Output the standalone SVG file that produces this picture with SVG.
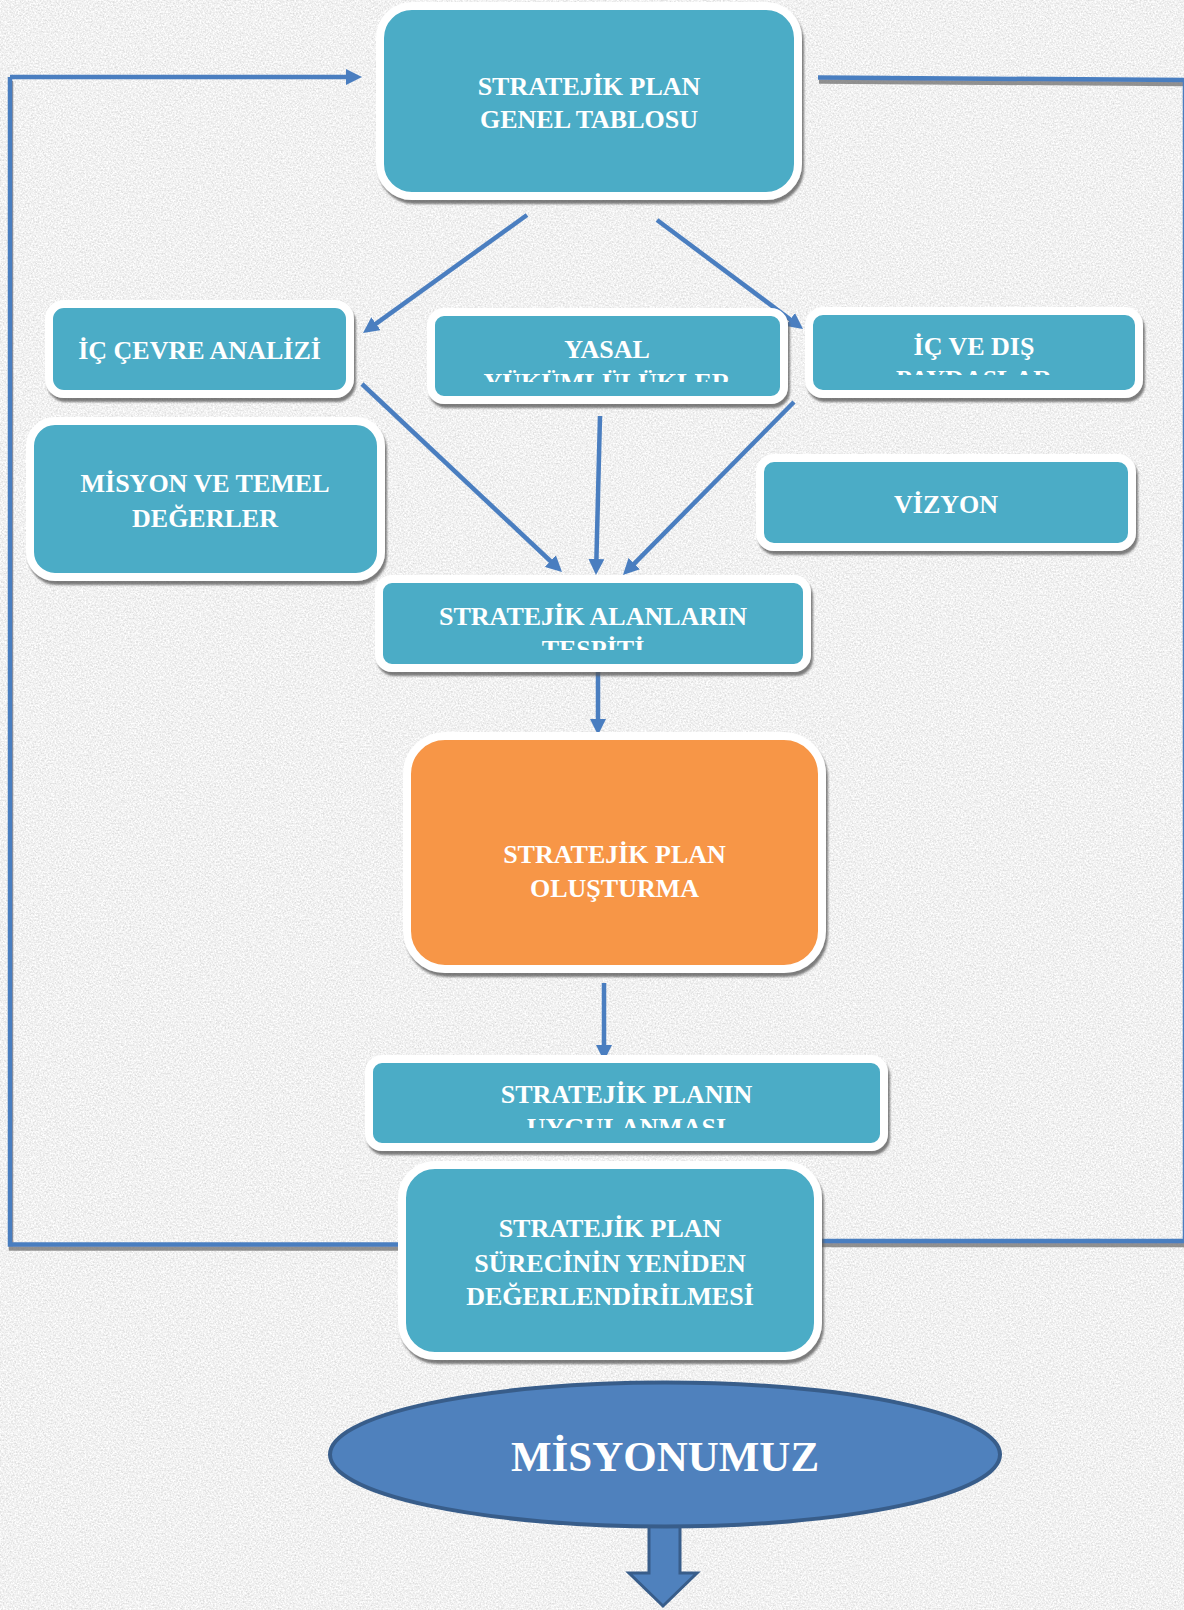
<svg xmlns="http://www.w3.org/2000/svg" width="1184" height="1610" viewBox="0 0 1184 1610">
<style>
.box{stroke:#FFFFFF;stroke-width:8;filter:url(#shadow)}
.teal{fill:#4BACC6}
.orange{fill:#F79646}
.t{font-family:"Liberation Serif","DejaVu Serif",serif;font-weight:bold;font-size:26px;fill:#FFFFFF;text-anchor:middle}
.big{font-size:43px}
.ln{fill:none;stroke:#4A7EC0;stroke-width:4.5}
.arr{marker-end:url(#ah)}
</style>
<defs>
<filter id="tex" x="0" y="0" width="1184" height="1610" filterUnits="userSpaceOnUse">
<feTurbulence type="fractalNoise" baseFrequency="0.6" numOctaves="3" seed="7"/>
<feColorMatrix type="matrix" values="0.5 0 0 0 0.63  0.5 0 0 0 0.63  0.5 0 0 0 0.63  0 0 0 0 1"/>
</filter>
<filter id="shadow" x="-5%" y="-5%" width="112%" height="120%">
<feDropShadow dx="2" dy="4" stdDeviation="1" flood-color="#555555" flood-opacity="0.75"/>
</filter>
<filter id="lshadow" x="-5%" y="-5%" width="110%" height="110%">
<feDropShadow dx="1" dy="4" stdDeviation="0.6" flood-color="#777777" flood-opacity="0.8"/>
</filter>
<marker id="ah" viewBox="0 0 16 16" refX="8" refY="8" markerWidth="16" markerHeight="16" markerUnits="userSpaceOnUse" orient="auto">
<path d="M0,0 L16,8 L0,16 z" fill="#4A7EC0"/>
</marker>
<clipPath id="c3"><rect x="435" y="316" width="345" height="66"/></clipPath>
<clipPath id="c4"><rect x="813" y="315" width="322" height="60"/></clipPath>
<clipPath id="c7"><rect x="383" y="583" width="420" height="67"/></clipPath>
<clipPath id="c9"><rect x="373" y="1063" width="507" height="65"/></clipPath>
</defs>
<rect x="0" y="0" width="1184" height="1610" fill="#E0E0E0"/>
<rect x="0" y="0" width="1184" height="1610" filter="url(#tex)"/>

<g id="connectors">
<g filter="url(#lshadow)">
<path class="ln" d="M403,1244.5 H10 V77"/>
<path class="ln" d="M818,77.5 L1185,80 V1241 H814"/>
</g>
<path class="ln arr" d="M10,77 H354"/>
<path class="ln arr" d="M527,215 L369.5,328.3"/>
<path class="ln arr" d="M657,220 L796.6,324.2"/>
<path class="ln arr" d="M362,384 L556.2,566.5"/>
<path class="ln arr" d="M600,416 L596.2,567"/>
<path class="ln arr" d="M794,402 L628.6,569.3"/>
<path class="ln arr" d="M598,671 V727"/>
<path class="ln arr" d="M604,983 V1053"/>
</g>

<g id="node-genel-tablo">
<rect class="box teal" x="380" y="6" width="418" height="190" rx="32"/>
<text class="t" x="589" y="95">STRATEJİK PLAN</text>
<text class="t" x="589" y="128">GENEL TABLOSU</text>
</g>

<g id="node-ic-cevre">
<rect class="box teal" x="49" y="304" width="301" height="90" rx="15"/>
<text class="t" x="199.5" y="359">İÇ ÇEVRE ANALİZİ</text>
</g>

<g id="node-yasal">
<rect class="box teal" x="431" y="312" width="353" height="88" rx="13"/>
<g clip-path="url(#c3)">
<text class="t" x="607" y="358">YASAL</text>
<text class="t" x="607" y="391">YÜKÜMLÜLÜKLER</text>
</g>
</g>

<g id="node-paydaslar">
<rect class="box teal" x="809" y="311" width="330" height="83" rx="14"/>
<g clip-path="url(#c4)">
<text class="t" x="974" y="355">İÇ VE DIŞ</text>
<text class="t" x="974" y="388">PAYDAŞLAR</text>
</g>
</g>

<g id="node-misyon-degerler">
<rect class="box teal" x="30" y="421" width="351" height="156" rx="25"/>
<text class="t" x="205" y="492">MİSYON VE TEMEL</text>
<text class="t" x="205" y="527">DEĞERLER</text>
</g>

<g id="node-vizyon">
<rect class="box teal" x="760" y="458" width="372" height="89" rx="14"/>
<text class="t" x="946" y="513">VİZYON</text>
</g>

<g id="node-alanlar">
<rect class="box teal" x="379" y="579" width="428" height="89" rx="13"/>
<g clip-path="url(#c7)">
<text class="t" x="593" y="625">STRATEJİK ALANLARIN</text>
<text class="t" x="593" y="658">TESPİTİ</text>
</g>
</g>

<g id="node-olusturma">
<rect class="box orange" x="407" y="736" width="415" height="233" rx="38"/>
<text class="t" x="614.5" y="863">STRATEJİK PLAN</text>
<text class="t" x="614.5" y="897">OLUŞTURMA</text>
</g>

<g id="node-uygulanmasi">
<rect class="box teal" x="369" y="1059" width="515" height="88" rx="13"/>
<g clip-path="url(#c9)">
<text class="t" x="626.5" y="1103">STRATEJİK PLANIN</text>
<text class="t" x="626.5" y="1136">UYGULANMASI</text>
</g>
</g>

<g id="node-degerlendirme">
<rect class="box teal" x="402" y="1165" width="416" height="191" rx="33"/>
<text class="t" x="610" y="1237">STRATEJİK PLAN</text>
<text class="t" x="610" y="1272">SÜRECİNİN YENİDEN</text>
<text class="t" x="610" y="1305">DEĞERLENDİRİLMESİ</text>
</g>

<g id="node-misyonumuz">
<polygon points="649,1526 680,1526 680,1573 697,1573 663,1606 629,1573 649,1573" fill="#4F81BD" stroke="#385D8A" stroke-width="3" stroke-linejoin="miter"/>
<ellipse cx="665" cy="1454.5" rx="335" ry="72" fill="#4F81BD" stroke="#385D8A" stroke-width="4"/>
<text class="t big" x="665" y="1471">MİSYONUMUZ</text>
</g>
</svg>
